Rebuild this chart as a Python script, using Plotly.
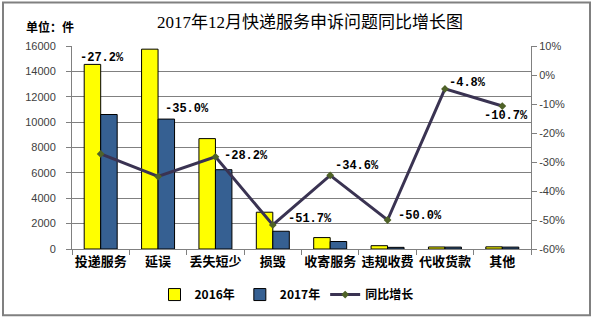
import plotly.graph_objects as go

categories = ["投递服务", "延误", "丢失短少", "损毁", "收寄服务", "违规收费", "代收货款", "其他"]
v2016 = [14550, 15750, 8700, 2900, 900, 260, 160, 170]
v2017 = [10600, 10240, 6250, 1400, 590, 130, 150, 150]
growth = [-27.2, -35.0, -28.2, -51.7, -34.6, -50.0, -4.8, -10.7]
label_text = ["-27.2%", "-35.0%", "-28.2%", "-51.7%", "-34.6%", "-50.0%", "-4.8%", "-10.7%"]
y_ticks = [0, 2000, 4000, 6000, 8000, 10000, 12000, 14000, 16000]
y_labels = ["0", "2000", "4000", "6000", "8000", "10000", "12000", "14000", "16000"]
y2_ticks = [-60, -50, -40, -30, -20, -10, 0, 10]
y2_labels = ["-60%", "-50%", "-40%", "-30%", "-20%", "-10%", "0%", "10%"]

# label offsets (pixels) relative to line points
label_dx = [1, 29, 31, 37, 27, 32, 23, 4]
label_dy = [96, 68, 1, 6, 9, 4, 6, -10]

CJK = "Noto Sans CJK SC"
grid = "#808080"

fig = go.Figure()
fig.add_trace(go.Bar(x=categories, y=v2016, name="2016年",
                     marker=dict(color="#FFFF00", line=dict(color="#000000", width=1))))
fig.add_trace(go.Bar(x=categories, y=v2017, name="2017年",
                     marker=dict(color="#366092", line=dict(color="#000000", width=1))))
fig.add_trace(go.Scatter(x=categories, y=growth, name="同比增长", yaxis="y2",
                         mode="lines+markers",
                         line=dict(color="#3A3352", width=3),
                         marker=dict(symbol="diamond", size=6, color="#4F6228")))

annotations = []
for c, g, t, dx, dy in zip(categories, growth, label_text, label_dx, label_dy):
    annotations.append(dict(x=c, y=g, xref="x", yref="y2", text=t, showarrow=False,
                            xshift=dx, yshift=dy,
                            font=dict(family="Liberation Mono", size=12, color="#000000", weight="bold")))
annotations.append(dict(text="2017年12月快递服务申诉问题同比增长图", xref="paper", yref="paper",
                        x=(310 - 72) / 459, y=(251 - 22) / 205, xanchor="center", yanchor="middle",
                        showarrow=False,
                        font=dict(family="Liberation Serif, " + CJK, size=17, color="#000000")))
annotations.append(dict(text="单位：件", xref="paper", yref="paper",
                        x=(50 - 72) / 459, y=(251 - 26) / 205, xanchor="center", yanchor="middle",
                        showarrow=False,
                        font=dict(family=CJK, size=12, color="#000000", weight="bold")))

fig.update_layout(
    width=594, height=321,
    margin=dict(l=72, r=63, t=46, b=70),
    paper_bgcolor="white", plot_bgcolor="white",
    barmode="group", bargap=0.425, bargroupgap=0,
    showlegend=True,
    legend=dict(orientation="h", x=0.5 - (303 - 288) / 459, xanchor="center",
                y=(251 - 297) / 205, yanchor="middle",
                font=dict(family=CJK, size=12, color="#000000", weight="bold"),
                itemwidth=30, tracegroupgap=0),
    xaxis=dict(type="category", range=[-0.5, 7.5], tickson="boundaries", ticks="outside",
               ticklen=5, tickcolor=grid, showline=True, linecolor=grid, linewidth=1,
               showgrid=False, tickangle=0, automargin=False,
               tickfont=dict(family=CJK, size=13, color="#000000", weight="bold")),
    yaxis=dict(range=[0, 16000], tickvals=y_ticks, ticktext=y_labels, ticks="outside", ticklen=5,
               tickcolor=grid, automargin=False,
               showline=True, linecolor=grid, showgrid=True, gridcolor=grid, gridwidth=1,
               zeroline=False, ticklabelstandoff=8,
               tickfont=dict(family="Liberation Sans", size=11, color="#404040")),
    yaxis2=dict(range=[-60, 10], tickvals=y2_ticks, ticktext=y2_labels, overlaying="y",
                side="right", ticks="outside", ticklen=5, tickcolor=grid, automargin=False,
                showline=True, linecolor=grid, showgrid=False, zeroline=False,
                tickfont=dict(family="Liberation Sans", size=11, color="#404040")),
    annotations=annotations,
    shapes=[dict(type="rect", xref="paper", yref="paper",
                 x0=(3 - 72) / 459, x1=(590 - 72) / 459,
                 y0=(251 - 318) / 205, y1=(251 - 2) / 205,
                 line=dict(color="#808080", width=2), fillcolor="rgba(0,0,0,0)", layer="below")],
)

fig.write_html("out.html")
